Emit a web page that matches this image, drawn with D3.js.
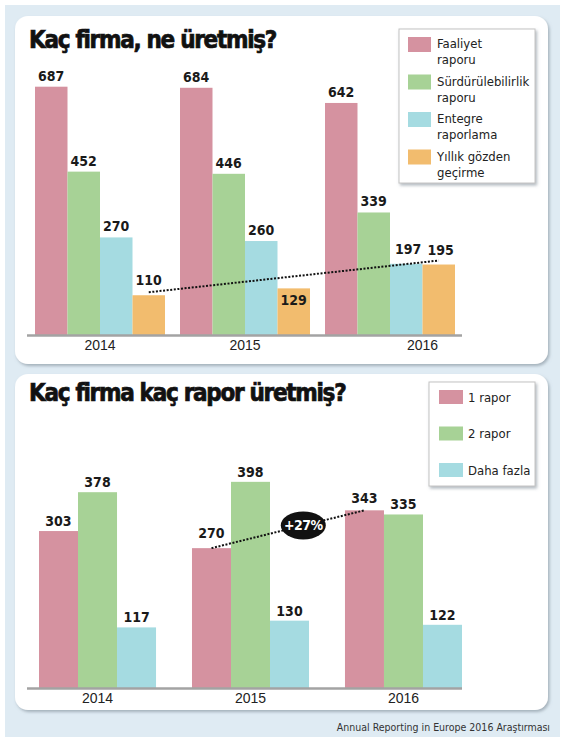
<!DOCTYPE html>
<html>
<head>
<meta charset="utf-8">
<script src="https://cdn.jsdelivr.net/npm/d3@7"></script>
<style>
  body { margin: 0; background: #fff; }
  svg { display: block; font-family: "DejaVu Sans Condensed", "Liberation Sans Narrow", "Roboto", sans-serif; }
  .title { font-size: 24px; font-weight: bold; fill: #111; stroke: #111; stroke-width: 0.7px; letter-spacing: -1.3px; }
  .value { font-size: 14px; font-weight: bold; fill: #1a1a1a; text-anchor: middle; }
  .legend text { font-size: 13px; fill: #222; }
  .axis text { font-size: 14px; fill: #222; }
  .source { font-size: 10.5px; fill: #333; text-anchor: end; }
</style>
</head>
<body>
<div id="chart"></div>
<script>
// top chart data
const years = ["2014", "2015", "2016"];
const reportTypes = ["Faaliyet raporu", "Sürdürülebilirlik raporu", "Entegre raporlama", "Yıllık gözden geçirme"];
const reportLegend = [["Faaliyet", "raporu"], ["Sürdürülebilirlik", "raporu"], ["Entegre", "raporlama"], ["Yıllık gözden", "geçirme"]];
const faaliyet = [687, 684, 642];
const surdurulebilirlik = [452, 446, 339];
const entegre = [270, 260, 197];
const yillik = [110, 129, 195];

// bottom chart data
const countTypes = ["1 rapor", "2 rapor", "Daha fazla"];
const birRapor = [303, 270, 343];
const ikiRapor = [378, 398, 335];
const dahaFazla = [117, 130, 122];
const changeLabel = "+27%";

const source = "Annual Reporting in Europe 2016 Araştırması";

const colors = ["#d592a0", "#a7d296", "#a5dbe1", "#f2bc6e"];

const width = 565;
const height = 741;

const svg = d3.select("#chart").append("svg")
    .attr("width", width)
    .attr("height", height);

const defs = svg.append("defs");
const shadow = defs.append("filter").attr("id", "shadow")
    .attr("x", "-5%").attr("y", "-5%").attr("width", "112%").attr("height", "115%");
shadow.append("feDropShadow")
    .attr("dx", 1.5).attr("dy", 2).attr("stdDeviation", 1.5)
    .attr("flood-color", "#7d8a94").attr("flood-opacity", 0.6);

// blue backdrop
svg.append("rect")
    .attr("x", 5).attr("y", 5)
    .attr("width", 555).attr("height", 732)
    .attr("fill", "#dfebf3");

function panel(y0, h) {
  svg.append("rect")
      .attr("x", 15).attr("y", y0)
      .attr("width", 533).attr("height", h)
      .attr("rx", 13)
      .attr("fill", "#fff")
      .attr("filter", "url(#shadow)");
}

panel(16, 348);
panel(374, 336);

// ---------- TOP CHART ----------
const topData = years.map((yr, i) => ({
  year: yr,
  values: [faaliyet[i], surdurulebilirlik[i], entegre[i], yillik[i]]
}));

const x0 = d3.scaleBand()
    .domain(years)
    .range([35, 455])
    .paddingInner(0.1034);

const x1 = d3.scaleBand()
    .domain(d3.range(reportTypes.length))
    .range([0, x0.bandwidth()]);

const y = d3.scaleLinear()
    .domain([0, 700])
    .range([335, 82]);

svg.append("text")
    .attr("class", "title")
    .attr("x", 29).attr("y", 48)
    .text("Kaç firma, ne üretmiş?");

const topGroups = svg.append("g").selectAll("g")
    .data(topData)
    .join("g")
    .attr("transform", d => `translate(${x0(d.year)},0)`);

topGroups.selectAll("rect")
    .data(d => d.values)
    .join("rect")
    .attr("x", (d, i) => x1(i))
    .attr("y", d => y(d))
    .attr("width", x1.bandwidth())
    .attr("height", d => y(0) - y(d))
    .attr("fill", (d, i) => colors[i]);

// orange trend line (yillik 2014 -> 2016)
svg.append("line")
    .attr("x1", x0("2014") + x1(3) + x1.bandwidth() / 2)
    .attr("y1", y(yillik[0]) - 3)
    .attr("x2", x0("2016") + x1(3) + x1.bandwidth() / 2)
    .attr("y2", y(yillik[2]) - 4)
    .attr("stroke", "#111")
    .attr("stroke-width", 2)
    .attr("stroke-dasharray", "2,1.6");

topGroups.selectAll("text")
    .data((d, gi) => d.values.map((v, i) => ({ v, i, gi })))
    .join("text")
    .attr("class", "value")
    .attr("x", d => x1(d.i) + x1.bandwidth() / 2 + (d.gi === 2 && d.i >= 2 ? 2 : 0))
    .attr("y", d => {
      if (d.i === 3 && d.gi === 1) return y(d.v) + 17; // sits inside the bar
      if (d.i === 3 || (d.i === 2 && d.gi === 2)) return y(d.v) - 10;
      return y(d.v) - 6;
    })
    .text(d => d.v);

svg.append("line")
    .attr("x1", 27).attr("x2", 462)
    .attr("y1", 335.5).attr("y2", 335.5)
    .attr("stroke", "#a3a3a3")
    .attr("stroke-width", 2.5);

const topAxis = svg.append("g")
    .attr("class", "axis")
    .attr("transform", "translate(0,336)")
    .call(d3.axisBottom(x0).tickSize(0).tickPadding(4));
topAxis.select(".domain").remove();
topAxis.selectAll("text").attr("font-family", null).attr("font-size", null);
// the 2016 label sits under the last two bars in the original
topAxis.selectAll(".tick").filter(d => d === "2016")
    .attr("transform", `translate(${x0("2016") + x1(3)},0)`);

// top legend
const legTop = svg.append("g").attr("class", "legend");
legTop.append("rect")
    .attr("x", 399).attr("y", 29)
    .attr("width", 136).attr("height", 154)
    .attr("fill", "#fff")
    .attr("stroke", "#c4c4c4")
    .attr("filter", "url(#shadow)");

const legTopItems = legTop.selectAll("g.item")
    .data(reportLegend)
    .join("g")
    .attr("class", "item")
    .attr("transform", (d, i) => `translate(408,${37 + i * 37.5})`);

legTopItems.append("rect")
    .attr("width", 23).attr("height", 15)
    .attr("fill", (d, i) => colors[i]);

legTopItems.append("text")
    .selectAll("tspan")
    .data(d => d)
    .join("tspan")
    .attr("x", 29)
    .attr("y", (d, i) => 11 + i * 16)
    .text(d => d);

// ---------- BOTTOM CHART ----------
const botData = years.map((yr, i) => ({
  year: yr,
  values: [birRapor[i], ikiRapor[i], dahaFazla[i]]
}));

const bx0 = d3.scaleBand()
    .domain(years)
    .range([39, 462])
    .paddingInner(0.235);

const bx1 = d3.scaleBand()
    .domain(d3.range(countTypes.length))
    .range([0, bx0.bandwidth()]);

const by = d3.scaleLinear()
    .domain([0, 400])
    .range([688, 480.8]);

svg.append("text")
    .attr("class", "title")
    .attr("x", 29).attr("y", 401)
    .text("Kaç firma kaç rapor üretmiş?");

const botGroups = svg.append("g").selectAll("g")
    .data(botData)
    .join("g")
    .attr("transform", d => `translate(${bx0(d.year)},0)`);

botGroups.selectAll("rect")
    .data(d => d.values)
    .join("rect")
    .attr("x", (d, i) => bx1(i))
    .attr("y", d => by(d))
    .attr("width", bx1.bandwidth())
    .attr("height", d => by(0) - by(d))
    .attr("fill", (d, i) => colors[i]);

// 1 rapor trend 2015 -> 2016 with the change badge
const tx1 = bx0("2015") + bx1(0) + bx1.bandwidth() / 2;
const ty1 = by(birRapor[1]);
const tx2 = bx0("2016") + bx1(0) + bx1.bandwidth() / 2;
const ty2 = by(birRapor[2]);
svg.append("line")
    .attr("x1", tx1).attr("y1", ty1)
    .attr("x2", tx2).attr("y2", ty2)
    .attr("stroke", "#111")
    .attr("stroke-width", 2)
    .attr("stroke-dasharray", "2,1.6");

const t = 0.6;
const badge = svg.append("g")
    .attr("transform", `translate(${tx1 + (tx2 - tx1) * t},${ty1 + (ty2 - ty1) * t})`);
badge.append("ellipse")
    .attr("rx", 22.5).attr("ry", 14)
    .attr("fill", "#111");
badge.append("text")
    .attr("text-anchor", "middle")
    .attr("y", 5)
    .attr("fill", "#fff")
    .attr("font-size", 14)
    .attr("font-weight", "bold")
    .attr("letter-spacing", -0.5)
    .text(changeLabel);

botGroups.selectAll("text")
    .data((d, gi) => d.values.map((v, i) => ({ v, i, gi })))
    .join("text")
    .attr("class", "value")
    .attr("x", d => bx1(d.i) + bx1.bandwidth() / 2)
    .attr("y", d => {
      if (d.i === 0 && d.gi === 1) return by(d.v) - 10;
      if (d.i === 0 && d.gi === 2) return by(d.v) - 7;
      return by(d.v) - 5;
    })
    .text(d => d.v);

svg.append("line")
    .attr("x1", 27).attr("x2", 462)
    .attr("y1", 688.5).attr("y2", 688.5)
    .attr("stroke", "#a3a3a3")
    .attr("stroke-width", 2.5);

const botAxis = svg.append("g")
    .attr("class", "axis")
    .attr("transform", "translate(0,689)")
    .call(d3.axisBottom(bx0).tickSize(0).tickPadding(4));
botAxis.select(".domain").remove();
botAxis.selectAll("text").attr("font-family", null).attr("font-size", null);

// bottom legend
const legBot = svg.append("g").attr("class", "legend");
legBot.append("rect")
    .attr("x", 429).attr("y", 382)
    .attr("width", 106).attr("height", 104)
    .attr("fill", "#fff")
    .attr("stroke", "#c4c4c4")
    .attr("filter", "url(#shadow)");

const legBotItems = legBot.selectAll("g.item")
    .data(countTypes)
    .join("g")
    .attr("class", "item")
    .attr("transform", (d, i) => `translate(439,${390 + i * 36.5})`);

legBotItems.append("rect")
    .attr("width", 24).attr("height", 14)
    .attr("fill", (d, i) => colors[i]);

legBotItems.append("text")
    .attr("x", 29)
    .attr("y", 11.5)
    .text(d => d);

svg.append("text")
    .attr("class", "source")
    .attr("x", 550).attr("y", 731)
    .text(source);
</script>
</body>
</html>
